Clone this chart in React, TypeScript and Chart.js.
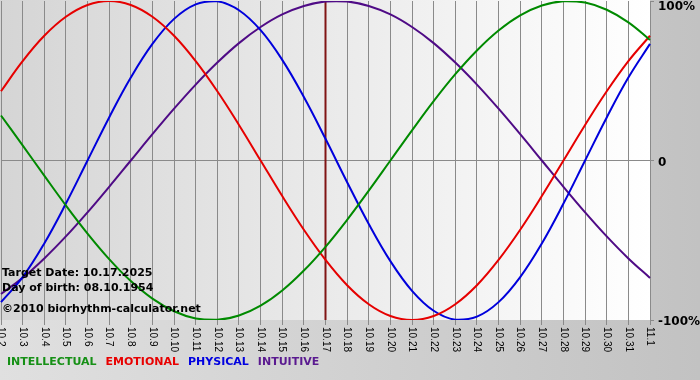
import React, { useEffect, useRef } from "react";
import { Chart, registerables } from "chart.js";

Chart.register(...registerables);

const dayLabels = [
  "10.2", "10.3", "10.4", "10.5", "10.6", "10.7", "10.8", "10.9", "10.10", "10.11",
  "10.12", "10.13", "10.14", "10.15", "10.16", "10.17", "10.18", "10.19", "10.20", "10.21",
  "10.22", "10.23", "10.24", "10.25", "10.26", "10.27", "10.28", "10.29", "10.30", "10.31", "11.1",
];

const physical = [-88.8, -73.1, -52.0, -27.0, 0, 27.0, 52.0, 73.1, 88.8, 97.9, 99.8, 94.2, 81.7, 63.1, 39.8, 13.6, -13.6, -39.8, -63.1, -81.7, -94.2, -99.8, -97.9, -88.8, -73.1, -52.0, -27.0, 0, 27.0, 52.0, 73.1];
const emotional = [43.4, 62.3, 78.2, 90.1, 97.5, 100, 97.5, 90.1, 78.2, 62.3, 43.4, 22.3, 0, -22.3, -43.4, -62.3, -78.2, -90.1, -97.5, -100, -97.5, -90.1, -78.2, -62.3, -43.4, -22.3, 0, 22.3, 43.4, 62.3, 78.2];
const intellectual = [28.2, 9.5, -9.5, -28.2, -45.8, -61.8, -75.6, -86.6, -94.5, -99.0, -99.9, -97.2, -91.0, -81.5, -69.0, -54.1, -37.2, -18.9, 0, 18.9, 37.2, 54.1, 69.0, 81.5, 91.0, 97.2, 99.9, 99.0, 94.5, 86.6, 75.6];
const intuitive = [-83.7, -73.6, -61.4, -47.6, -32.5, -16.5, 0, 16.5, 32.5, 47.6, 61.4, 73.6, 83.7, 91.6, 96.9, 99.7, 99.7, 96.9, 91.6, 83.7, 73.6, 61.4, 47.6, 32.5, 16.5, 0, -16.5, -32.5, -47.6, -61.4, -73.6];

const yTickValues = [100, 0, -100];
const yTickLabels = ["100%", "0", "-100%"];
const targetLabel = "10.17";
const infoLines = ["Target Date: 10.17.2025", "Day of birth: 08.10.1954", "\u00A92010 biorhythm-calculator.net"];

const seriesNames = ["INTELLECTUAL", "EMOTIONAL", "PHYSICAL", "INTUITIVE"];
const seriesColors = ["#008a00", "#e60000", "#0000dc", "#4f0b86"];
const legendColors = ["#169016", "#e80000", "#0000e0", "#5a1a90"];

const drawPlugin = {
  id: "bioDraw",
  beforeDraw(chart: any) {
    const { ctx, chartArea: a, width, height } = chart;
    ctx.save();
    const g = ctx.createLinearGradient(0, 0, width, 0);
    g.addColorStop(0, "#e0e0e0");
    g.addColorStop(1, "#c2c2c2");
    ctx.fillStyle = g;
    ctx.fillRect(0, 0, width, height);
    const g2 = ctx.createLinearGradient(0, 0, a.right, 0);
    g2.addColorStop(0, "#d5d5d5");
    g2.addColorStop(1, "#ffffff");
    ctx.fillStyle = g2;
    ctx.fillRect(0, a.top - 1, a.right, a.bottom - a.top + 1);
    ctx.restore();
  },
  beforeDatasetsDraw(chart: any) {
    const { ctx, chartArea: a, scales } = chart;
    const x = scales.x.getPixelForValue(dayLabels.indexOf(targetLabel));
    ctx.save();
    ctx.strokeStyle = "#801414";
    ctx.lineWidth = 2;
    ctx.beginPath();
    ctx.moveTo(x, a.top);
    ctx.lineTo(x, a.bottom);
    ctx.stroke();
    ctx.restore();
  },
  afterDraw(chart: any) {
    const { ctx, chartArea: a, scales } = chart;
    ctx.save();
    // x labels rotated clockwise
    ctx.fillStyle = "#000";
    ctx.font = "10px 'Liberation Sans', Arial, sans-serif";
    ctx.textAlign = "left";
    ctx.textBaseline = "middle";
    dayLabels.forEach((lab, i) => {
      const x = scales.x.getPixelForValue(i);
      ctx.save();
      ctx.translate(x, a.bottom + 7);
      ctx.rotate(Math.PI / 2);
      ctx.fillText(lab, 0, 0);
      ctx.restore();
    });
    // y labels
    ctx.font = "bold 12px 'DejaVu Sans', Verdana, sans-serif";
    ctx.textBaseline = "middle";
    yTickValues.forEach((v, i) => {
      let y = scales.y.getPixelForValue(v) + 2;
      if (y < 7) y = 7;
      ctx.fillText(yTickLabels[i], a.right + 8, y);
    });
    // info text
    ctx.font = "bold 11px 'DejaVu Sans', Verdana, sans-serif";
    ctx.textBaseline = "alphabetic";
    const baselines = [a.bottom - 44, a.bottom - 29, a.bottom - 8];
    infoLines.forEach((t, i) => ctx.fillText(t, 2, baselines[i]));
    // legend
    let lx = 7;
    seriesNames.forEach((n, i) => {
      ctx.fillStyle = legendColors[i];
      ctx.fillText(n, lx, 365);
      lx += ctx.measureText(n).width + 9;
    });
    ctx.restore();
  },
};

export default function App() {
  const ref = useRef<HTMLCanvasElement | null>(null);
  useEffect(() => {
    document.body.style.margin = "0";
    const canvas = ref.current;
    if (!canvas) return;
    const values = [intellectual, emotional, physical, intuitive];
    const chart = new Chart(canvas, {
      type: "line",
      data: {
        labels: dayLabels,
        datasets: values.map((d, i) => ({
          label: seriesNames[i],
          data: d,
          borderColor: seriesColors[i],
          borderWidth: 2,
          pointRadius: 0,
          tension: 0.4,
          fill: false,
        })),
      },
      options: {
        responsive: false,
        animation: false,
        devicePixelRatio: 1,
        layout: { padding: { left: 1, top: 1, right: 46, bottom: 55 } },
        plugins: { legend: { display: false }, tooltip: { enabled: false } },
        scales: {
          x: {
            type: "category",
            offset: false,
            ticks: { display: false },
            grid: { color: "#8a8a8a", lineWidth: 1, drawTicks: true, tickLength: 5, tickColor: "#8a8a8a" },
            border: { display: false },
          },
          y: {
            position: "right",
            min: -100,
            max: 100,
            ticks: { display: false, stepSize: 100 },
            grid: {
              color: (c: any) => (c.tick && c.tick.value === 0 ? "#8a8a8a" : "rgba(0,0,0,0)"),
              tickColor: "#8a8a8a",
              drawTicks: true,
              tickLength: 4,
            },
            border: { display: false },
          },
        },
      },
      plugins: [drawPlugin],
    });
    return () => chart.destroy();
  }, []);
  return (
    <div style={{ position: "absolute", left: 0, top: 0, width: 700, height: 380 }}>
      <canvas ref={ref} width={700} height={380} style={{ display: "block", width: 700, height: 380 }} />
    </div>
  );
}
